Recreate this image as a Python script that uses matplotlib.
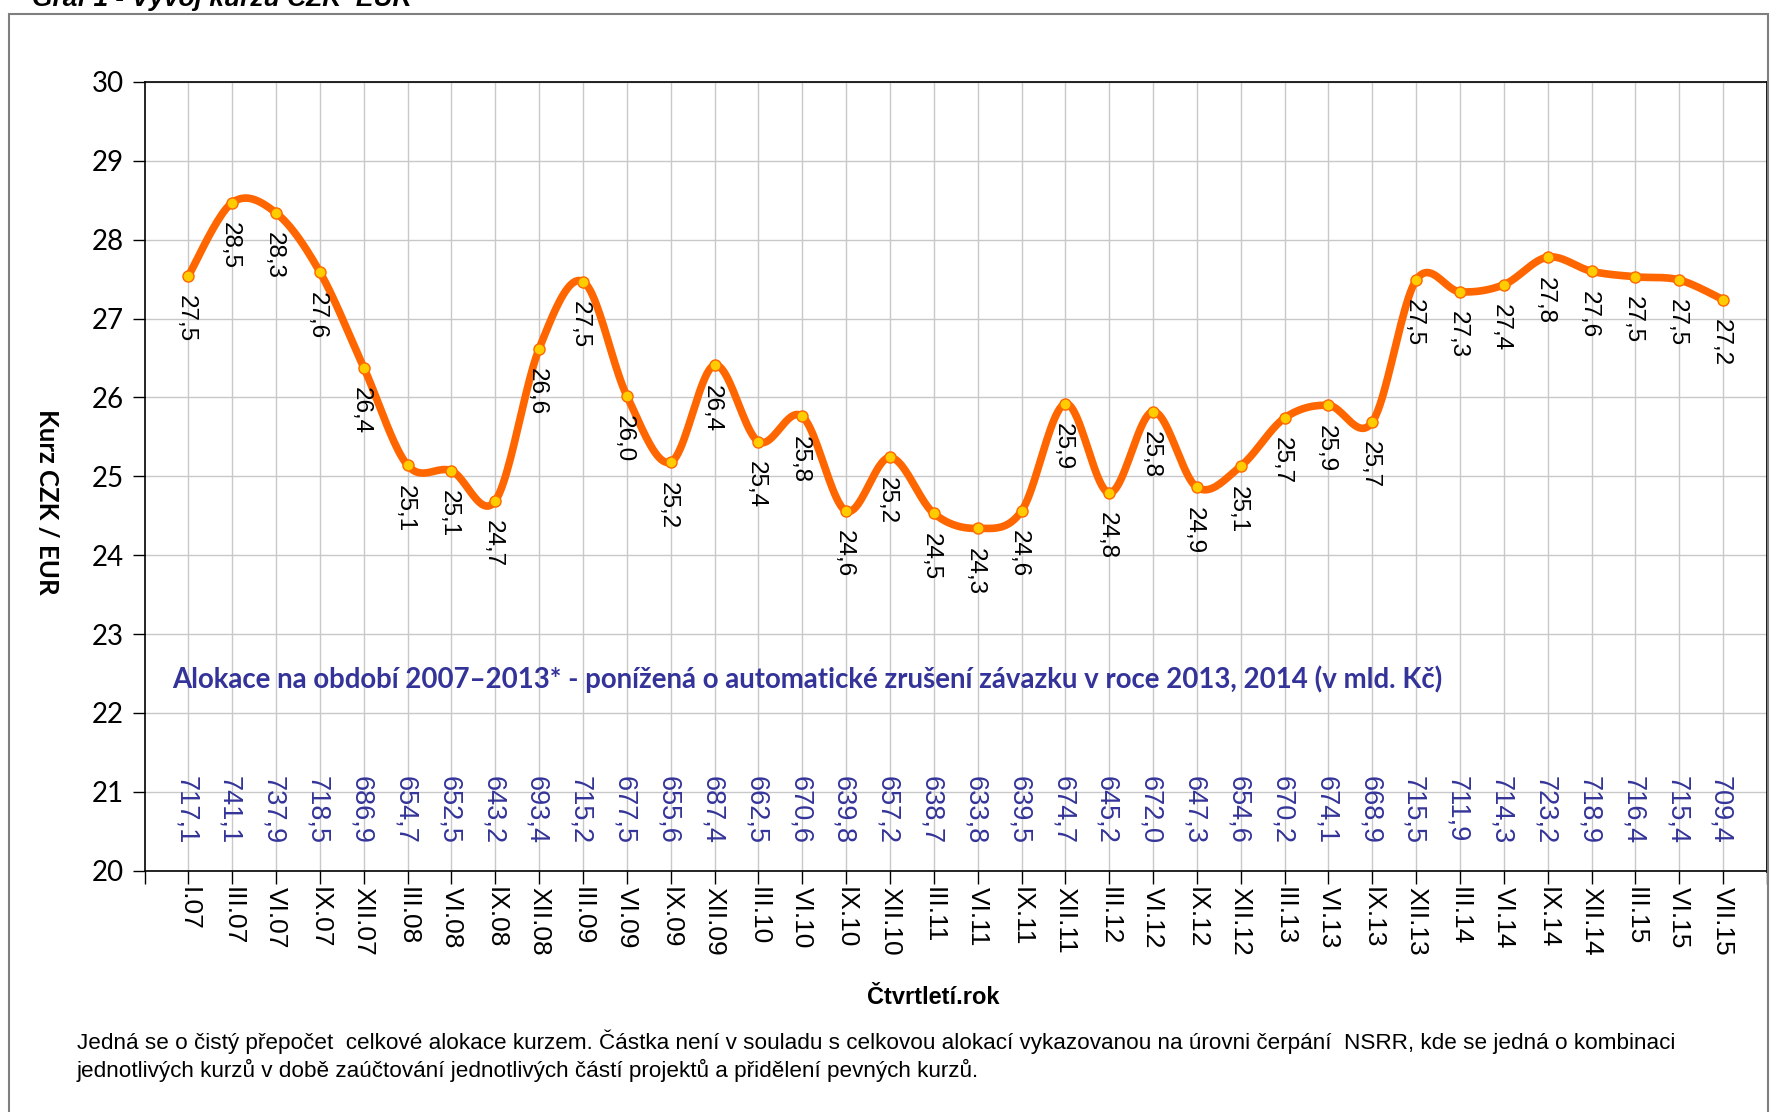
import numpy as np
import matplotlib
matplotlib.use("Agg")
import matplotlib.pyplot as plt
from matplotlib.patches import Rectangle

# ===============================
# Data
# ===============================
kvartaly = ["I.07", "III.07", "VI.07", "IX.07", "XII.07",
            "III.08", "VI.08", "IX.08", "XII.08",
            "III.09", "VI.09", "IX.09", "XII.09",
            "III.10", "VI.10", "IX.10", "XII.10",
            "III.11", "VI.11", "IX.11", "XII.11",
            "III.12", "VI.12", "IX.12", "XII.12",
            "III.13", "VI.13", "IX.13", "XII.13",
            "III.14", "VI.14", "IX.14", "XII.14",
            "III.15", "VI.15", "VII.15"]

kurz = [27.54, 28.47, 28.34, 27.59, 26.38,
        25.14, 25.07, 24.69, 26.62,
        27.47, 26.02, 25.18, 26.41,
        25.44, 25.76, 24.56, 25.24,
        24.53, 24.34, 24.56, 25.92,
        24.79, 25.82, 24.86, 25.13,
        25.74, 25.90, 25.69, 27.49,
        27.34, 27.43, 27.78, 27.60,
        27.53, 27.49, 27.24]

alokace = [717.1, 741.1, 737.9, 718.5, 686.9,
           654.7, 652.5, 643.2, 693.4,
           715.2, 677.5, 655.6, 687.4,
           662.5, 670.6, 639.8, 657.2,
           638.7, 633.8, 639.5, 674.7,
           645.2, 672.0, 647.3, 654.6,
           670.2, 674.1, 668.9, 715.5,
           711.9, 714.3, 723.2, 718.9,
           716.4, 715.4, 709.4]

nadpis = "Graf 1 - Vývoj kurzu CZK–EUR"
popis_alokace = ("Alokace na období 2007–2013* - ponížená o automatické zrušení "
                 "závazku v roce 2013, 2014 (v mld. Kč)")
poznamka = ("Jedná se o čistý přepočet  celkové alokace kurzem. Částka není v souladu "
            "s celkovou alokací vykazovanou na úrovni čerpání  NSRR, kde se jedná o kombinaci\n"
            "jednotlivých kurzů v době zaúčtování jednotlivých částí projektů a přidělení pevných kurzů.")

ORANZ = "#FF6600"
ZLUTA = "#FFCC00"
MODRA = "#333399"
ARIAL = ["Liberation Sans", "DejaVu Sans"]
CALIBRI = ["Lato", "DejaVu Sans"]


# Excel-like smoothed line (Catmull-Rom -> Bezier)
def vyhlad(xs, ys, n=24):
    P = np.column_stack([xs, ys]).astype(float)
    P = np.vstack([P[0], P, P[-1]])
    casti = []
    t = np.linspace(0, 1, n)[:, None]
    for i in range(1, len(P) - 2):
        p0, p1, p2, p3 = P[i - 1], P[i], P[i + 1], P[i + 2]
        c1 = p1 + (p2 - p0) / 6
        c2 = p2 - (p3 - p1) / 6
        seg = (1 - t) ** 3 * p1 + 3 * (1 - t) ** 2 * t * c1 + 3 * (1 - t) * t ** 2 * c2 + t ** 3 * p2
        casti.append(seg if i == 1 else seg[1:])
    return np.vstack(casti)


x = np.arange(len(kvartaly))

fig = plt.figure(figsize=(17.84, 11.12), dpi=100)
ax = fig.add_axes([144.5 / 1784, 1 - 870.7 / 1112, (1767 - 144.5) / 1784, (870.7 - 82) / 1112])

# outer frame of the chart
fig.patches.append(Rectangle((9 / 1784, -0.05), (1768 - 9) / 1784, 1.05 - 14 / 1112,
                             transform=fig.transFigure, fill=False,
                             edgecolor="#7f7f7f", linewidth=1.5))

fig.text(32 / 1784, 1 - 6 / 1112, nadpis, fontsize=19, fontweight="bold",
         fontstyle="italic", family=ARIAL, va="baseline", ha="left")

# smoothed line + markers
krivka = vyhlad(x, kurz)
ax.plot(krivka[:, 0], krivka[:, 1], color=ORANZ, linewidth=5.5, solid_capstyle="round", zorder=3)
ax.plot(x, kurz, linestyle="none", marker="o", markersize=8,
        markerfacecolor=ZLUTA, markeredgecolor=ORANZ, markeredgewidth=1, zorder=4)

# data labels below points
for xi, yi in zip(x, kurz):
    ax.annotate(f"{yi:.1f}".replace(".", ","), (xi, yi), xytext=(-2, -14),
                textcoords="offset points", rotation=-90, ha="center", va="top",
                fontsize=17.5, family=ARIAL, color="black", zorder=5)

# allocation values
for xi, a in zip(x, alokace):
    ax.text(xi - 0.06, 21.2, f"{a:.1f}".replace(".", ","), rotation=-90,
            ha="center", va="top", fontsize=19.5, family=ARIAL, color=MODRA)

ax.text(-0.37, 22.43, popis_alokace, fontsize=19.9, fontweight="bold",
        family=CALIBRI, color=MODRA, ha="left", va="center")

# axes
ax.set_xlim(-1, 36)
ax.set_ylim(20, 30)
ax.set_yticks(range(20, 31))
ax.set_xticks(x)
ax.set_xticklabels(kvartaly, rotation=-90, fontsize=19, family=ARIAL)
ax.set_xticks(np.arange(-1, 37), minor=True)
for lab in ax.get_yticklabels():
    lab.set_family(CALIBRI)
    lab.set_fontsize(20)
ax.tick_params(axis="x", which="both", length=9, width=1, direction="out", pad=3)
ax.tick_params(axis="y", length=9, width=1, direction="out", pad=6)

ax.grid(True, color="#c8c8c8", linewidth=1)
ax.set_axisbelow(True)
for s in ax.spines.values():
    s.set_color("black")
    s.set_linewidth(1.2)
ax.spines["right"].set_linewidth(2)

ax.set_ylabel("Kurz CZK / EUR", rotation=-90, fontsize=18.5, fontweight="bold",
              family=CALIBRI, va="center")
ax.yaxis.set_label_coords(-0.06, 0.4675)
fig.text(933 / 1784, 1 - 997 / 1112, "Čtvrtletí.rok", fontsize=17, fontweight="bold",
         family=ARIAL, ha="center", va="center")

fig.text(77 / 1784, 1 - 1056 / 1112, poznamka, fontsize=16.2, family=ARIAL,
         ha="left", va="center", linespacing=1.25)

fig.savefig("out.png", dpi=100)
